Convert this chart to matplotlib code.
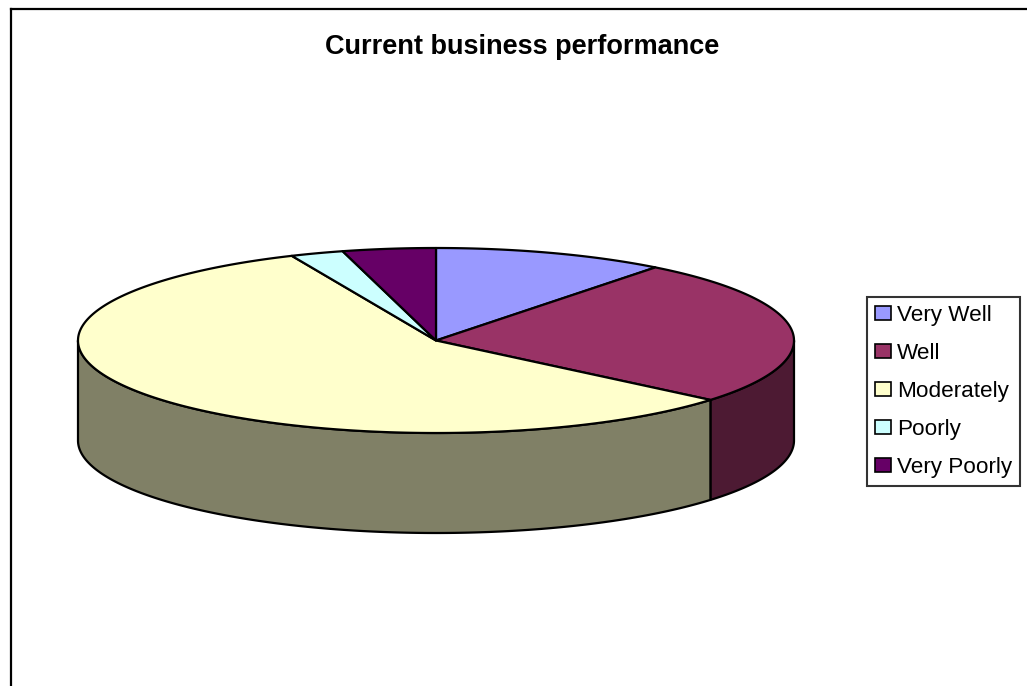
import numpy as np
import matplotlib
matplotlib.use("Agg")
import matplotlib.pyplot as plt
from matplotlib.patches import Polygon, Patch
from matplotlib.lines import Line2D

plt.rcParams["font.family"] = ["Liberation Sans", "DejaVu Sans"]

# data (share of respondents)
labels = ["Very Well", "Well", "Moderately", "Poorly", "Very Poorly"]
values = [10.5, 25.6, 57.3, 2.4, 4.2]
top_colors = ["#9999FF", "#993366", "#FFFFCC", "#CCFFFF", "#660066"]
title = "Current business performance"

W, H = 1027, 686
fig = plt.figure(figsize=(W / 100, H / 100), dpi=100)
ax = fig.add_axes([0, 0, 1, 1])
ax.set_xlim(0, W)
ax.set_ylim(H, 0)
ax.axis("off")

# pie geometry (pixel space, y down)
cx, cy = 436, 340.5
rx, ry = 358, 92.5
depth = 100


def darker(hexcol, f=0.5):
    c = np.array(matplotlib.colors.to_rgb(hexcol)) * f
    return tuple(c)


def arc(t1, t2, dy=0.0, n=None):
    if n is None:
        n = max(2, int(abs(t2 - t1) * 2) + 2)
    t = np.radians(np.linspace(t1, t2, n))
    return np.column_stack([cx + rx * np.sin(t), cy - ry * np.cos(t) + dy])


fracs = np.array(values) / np.sum(values)
bounds = np.r_[0, np.cumsum(fracs)] * 360.0
lw = 1.6

# side walls (front half: 90..270 deg clockwise from top)
for i in range(len(values)):
    a, b = max(bounds[i], 90), min(bounds[i + 1], 270)
    if b <= a:
        continue
    top = arc(a, b)
    bot = arc(b, a, dy=depth)
    ax.add_patch(Polygon(np.vstack([top, bot]), closed=True,
                         facecolor=darker(top_colors[i]), edgecolor="black",
                         linewidth=lw, joinstyle="round", zorder=2))

# top wedges
for i in range(len(values)):
    pts = np.vstack([[cx, cy], arc(bounds[i], bounds[i + 1])])
    ax.add_patch(Polygon(pts, closed=True, facecolor=top_colors[i],
                         edgecolor="black", linewidth=lw, joinstyle="round",
                         zorder=3))

ax.text(522, 54, title, ha="center", va="baseline", fontsize=19.5,
        fontweight="bold", color="black")

handles = [Patch(facecolor=c, edgecolor="black", linewidth=1.2) for c in top_colors]
leg = ax.legend(handles, labels, loc="upper left", bbox_to_anchor=(867, 297),
                bbox_transform=ax.transData, fontsize=16.2, frameon=True,
                fancybox=False, shadow=False, borderpad=0.35, labelspacing=0.76,
                handlelength=0.7, handleheight=0.6, handletextpad=0.3,
                borderaxespad=0)
leg.get_frame().set_edgecolor("black")
leg.get_frame().set_linewidth(1.5)

# chart area border (only top and left edges are visible in the crop)
ax.add_line(Line2D([11, W], [9, 9], color="black", linewidth=1.6, zorder=5))
ax.add_line(Line2D([11, 11], [9, H], color="black", linewidth=1.6, zorder=5))

fig.savefig("out.png", dpi=100, facecolor="white")
